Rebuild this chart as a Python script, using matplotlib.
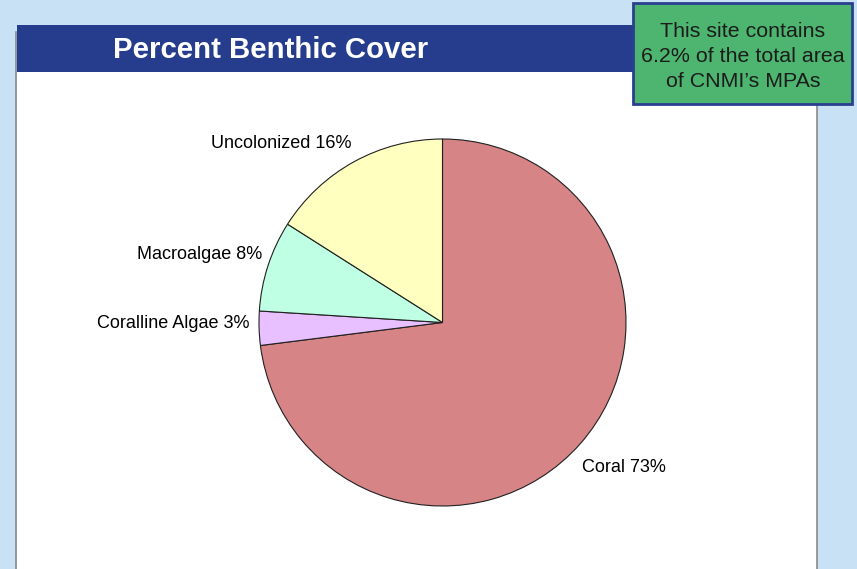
import matplotlib
matplotlib.use("Agg")
from matplotlib import pyplot as plt
from matplotlib.patches import Rectangle

plt.rcParams['font.family'] = ['Liberation Sans', 'DejaVu Sans']

W, H = 857, 569

categories = ["Coral", "Coralline Algae", "Macroalgae", "Uncolonized"]
percents = [73, 3, 8, 16]
colors = ["#D78486", "#E8C0FF", "#BFFFE4", "#FFFFC0"]

# label anchor points (pixels, measured from the top-left corner)
label_pos = [(582, 468, 'left'), (250, 323, 'right'),
             (262, 254, 'right'), (281, 143, 'center')]

box_lines = ["This site contains", "6.2% of the total area", "of CNMI\u2019s MPAs"]


def px(x, y):
    """Top-left pixel coordinates to axis coordinates"""
    return x, H - y


def main():
    fig = plt.figure(figsize=(W / 100, H / 100), dpi=100)
    fig.patch.set_facecolor("#C9E1F4")
    ax = fig.add_axes([0, 0, 1, 1])

    # white panel with thin grey edges
    ax.add_patch(Rectangle(px(17, H), 800, H - 72, facecolor="white", edgecolor="none", zorder=1))
    ax.plot([16.5, 16.5], [H - 32, 0], color="#8A8A8A", lw=1.2, zorder=2)
    ax.plot([817, 817], [H - 104, 0], color="#8A8A8A", lw=1.2, zorder=2)

    # title bar
    ax.add_patch(Rectangle(px(17, 72), 800, 47, facecolor="#253D8C", edgecolor="none", zorder=2))
    ax.text(*px(270.5, 50), "Percent Benthic Cover", color="white", fontsize=21.2,
            fontweight="bold", ha="center", va="center", zorder=3)

    # pie
    cx, cy = px(442.5, 322.5)
    wedges, _ = ax.pie(percents, colors=colors, startangle=90, counterclock=False,
                       center=(cx, cy), radius=183.5, frame=True,
                       wedgeprops=dict(edgecolor="#202020", linewidth=0.8))
    for w in wedges:
        w.set_zorder(4)
    ax.set_xlim(0, W)
    ax.set_ylim(0, H)
    ax.axis("off")

    for name, pct, (x, y, ha) in zip(categories, percents, label_pos):
        ax.text(*px(x, y), "{} {}%".format(name, pct), fontsize=13, ha=ha,
                va="center", color="black", zorder=5)

    # info box
    ax.add_patch(Rectangle(px(633, 104), 219, 101, facecolor="#4DB56F",
                           edgecolor="#2A3F8F", linewidth=2, zorder=6))
    for i, line in enumerate(box_lines):
        ax.text(*px(743, 31 + 25 * i), line, fontsize=15.4, ha="center",
                va="center", color="#1C1C1C", zorder=7)

    fig.savefig("out.png", dpi=100)
    plt.close(fig)


if __name__ == "__main__":
    main()
